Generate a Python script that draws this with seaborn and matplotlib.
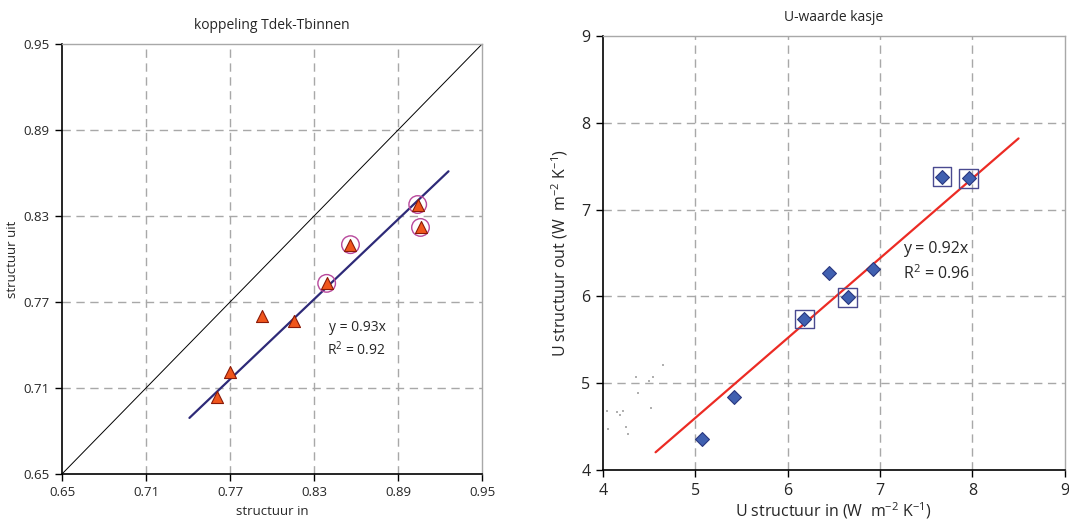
import numpy as np
import pandas as pd
import matplotlib
matplotlib.use("Agg")
import matplotlib.pyplot as plt
import seaborn as sns

# left panel: koppeling Tdek-Tbinnen
left_in = [0.761, 0.770, 0.793, 0.816, 0.839, 0.856, 0.904, 0.906]
left_uit = [0.704, 0.721, 0.760, 0.757, 0.783, 0.810, 0.838, 0.822]
left_circled = [False, False, False, False, True, True, True, True]
left_slope = 0.93
left_fit_x = [0.741, 0.926]
left_ticks = [0.65, 0.71, 0.77, 0.83, 0.89, 0.95]

# right panel: U-waarde kasje
right_in = [5.07, 5.42, 6.18, 6.45, 6.65, 6.92, 7.67, 7.96]
right_out = [4.36, 4.84, 5.74, 6.27, 5.99, 6.32, 7.38, 7.36]
right_boxed = [False, False, True, False, True, False, True, True]
right_slope = 0.92
right_fit_x = [4.57, 8.50]
right_ticks = [4, 5, 6, 7, 8, 9]
# faint stray dots bottom-left
dots_x = [4.05, 4.04, 4.15, 4.19, 4.22, 4.25, 4.27, 4.38, 4.36, 4.50, 4.54, 4.52, 4.65]
dots_y = [4.47, 4.68, 4.67, 4.63, 4.68, 4.49, 4.41, 4.89, 5.07, 5.02, 5.07, 4.72, 5.21]

sns.set_style("white")
plt.rcParams['font.family'] = ['Open Sans', 'DejaVu Sans']
plt.rcParams['mathtext.fontset'] = 'custom'
plt.rcParams['mathtext.rm'] = 'Open Sans'

fig = plt.figure(figsize=(10.69, 5.23), dpi=100)
ax1 = fig.add_axes([0.058, 0.0937, 0.393, 0.8222])
ax2 = fig.add_axes([0.564, 0.1013, 0.432, 0.8299])

grid_kw = dict(color="#a8a8a8", linestyle=(0, (6, 4)), linewidth=1.0)


def style_axes(ax, ticks, fs):
    ax.set_xlim(ticks[0], ticks[-1])
    ax.set_ylim(ticks[0], ticks[-1])
    ax.set_xticks(ticks)
    ax.set_yticks(ticks)
    for t in ticks[1:-1]:
        ax.axvline(t, zorder=0, **grid_kw)
        ax.axhline(t, zorder=0, **grid_kw)
    for side in ["top", "right"]:
        ax.spines[side].set_color("#a8a8a8")
        ax.spines[side].set_linewidth(1.0)
    for side in ["left", "bottom"]:
        ax.spines[side].set_color("black")
        ax.spines[side].set_linewidth(1.2)
    ax.tick_params(axis="both", direction="out", length=5, width=1,
                   color="black", labelsize=fs, pad=4,
                   left=True, bottom=True)


# ---- left ----
style_axes(ax1, left_ticks, 9.5)
dl = pd.DataFrame({"x": left_in, "y": left_uit, "c": left_circled})
ax1.plot([0.65, 0.95], [0.65, 0.95], color="black", linewidth=0.7, zorder=2)
fit_l = np.array(left_fit_x)
sns.lineplot(x=fit_l, y=left_slope * fit_l, ax=ax1, color="#2e2a78",
             linewidth=1.6, zorder=3)
sns.scatterplot(data=dl[dl["c"]], x="x", y="y", ax=ax1, marker="o", s=160,
                facecolor="none", edgecolor="#b8489c", linewidth=1.0, zorder=4)
sns.scatterplot(data=dl, x="x", y="y", ax=ax1, marker="^", s=75,
                color="#f0561c", edgecolor="#8a1a08", linewidth=0.8, zorder=5)
ax1.text(0.8405, 0.7525, "y = 0.93x", fontsize=10, va="center")
ax1.text(0.8395, 0.7365, "R$^{2}$ = 0.92", fontsize=10, va="center")
ax1.set_title("koppeling Tdek-Tbinnen", fontsize=10, pad=11)
ax1.set_xlabel("structuur in", fontsize=9.5, labelpad=4)
ax1.set_ylabel("structuur uit", fontsize=9.5, labelpad=3)

# ---- right ----
style_axes(ax2, right_ticks, 11.5)
dr = pd.DataFrame({"x": right_in, "y": right_out, "b": right_boxed})
sns.scatterplot(x=dots_x, y=dots_y, ax=ax2, marker="s", s=2,
                color="#b0b0b0", linewidth=0, zorder=2)
fit_r = np.array(right_fit_x)
sns.lineplot(x=fit_r, y=right_slope * fit_r, ax=ax2, color="#ec2b24",
             linewidth=1.6, zorder=3)
sns.scatterplot(data=dr[dr["b"]], x="x", y="y", ax=ax2, marker="s", s=180,
                facecolor="none", edgecolor="#4a4a90", linewidth=1.0, zorder=4)
sns.scatterplot(data=dr, x="x", y="y", ax=ax2, marker="D", s=50,
                color="#4060b0", edgecolor="#2a3880", linewidth=0.8, zorder=5)
ax2.text(7.25, 6.55, "y = 0.92x", fontsize=11.5, va="center")
ax2.text(7.25, 6.26, "R$^{2}$ = 0.96", fontsize=11.5, va="center")
ax2.set_title("U-waarde kasje", fontsize=10, pad=11)
ax2.set_xlabel("U structuur in (W  m$^{-2}$ K$^{-1}$)", fontsize=11.5, labelpad=1)
ax2.set_ylabel("U structuur out (W  m$^{-2}$ K$^{-1}$)", fontsize=11.5, labelpad=8)

fig.savefig("out.png", dpi=100)
